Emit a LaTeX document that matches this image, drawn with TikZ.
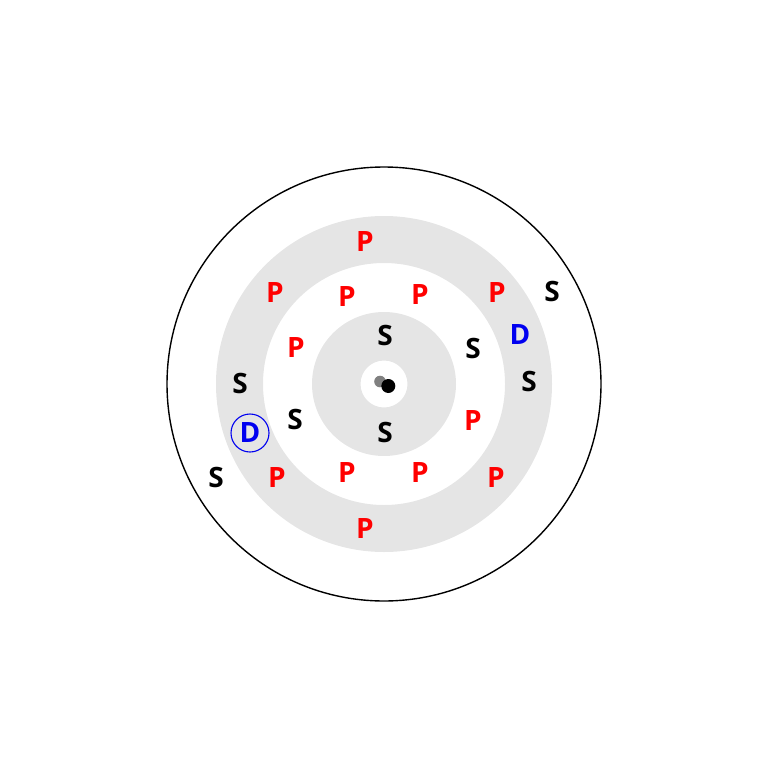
\documentclass[tikz,border=0pt]{standalone}
\usepackage{fontspec}
\setmainfont{Open Sans}
\usetikzlibrary{positioning}

\definecolor{ringgray}{HTML}{E5E5E5}
\definecolor{dotgray}{HTML}{808080}
\definecolor{dblue}{HTML}{0000F0}

\tikzset{
  lbl/.style={font=\fontsize{28}{28}\selectfont\bfseries, inner sep=0pt},
  pnode/.style={lbl, text=red},
  snode/.style={lbl, text=black},
  dnode/.style={lbl, text=dblue}
}

\begin{document}
\begin{tikzpicture}[x=1pt, y=-1pt]
\useasboundingbox (0,0) rectangle (768,768);
\coordinate (c) at (384,384);

% rings
\draw[black, line width=1.4pt] (c) circle [radius=217];
\fill[ringgray, even odd rule] (c) circle [radius=168] (c) circle [radius=121];
\fill[ringgray, even odd rule] (c) circle [radius=72] (c) circle [radius=23.5];
\fill[dotgray] (380,381.5) circle [radius=5.8];
\fill[black] (388.3,386) circle [radius=7];

% top half
\node[pnode] (p1) at (365,242) {P};
\node[pnode] (p2) at (275,293) {P};
\node[pnode] (p3) at (347,297) {P};
\node[pnode] (p4) at (420,295) {P};
\node[pnode] (p5) at (497,293) {P};
\node[snode] (s1) at (552,291) {S};
\node[dnode] (d1) at (520,335) {D};
\node[snode] (s2) at (385,335) {S};
\node[snode] (s3) at (473,348) {S};
\node[pnode] (p6) at (296,348) {P};
\node[snode] (s4) at (240,383) {S};
\node[snode] (s5) at (529,381) {S};

% bottom half
\node[dnode, draw=dblue, circle, line width=1.1pt, minimum size=38] (d2) at (250,433) {D};
\node[snode] (s6) at (295,419) {S};
\node[snode] (s7) at (385,432) {S};
\node[pnode] (p7) at (473,421) {P};
\node[snode] (s8) at (216,477) {S};
\node[pnode] (p8) at (277,478) {P};
\node[pnode] (p9) at (347,473) {P};
\node[pnode] (p10) at (420,473) {P};
\node[pnode] (p11) at (496,478) {P};
\node[pnode] (p12) at (365,528) {P};
\end{tikzpicture}
\end{document}
